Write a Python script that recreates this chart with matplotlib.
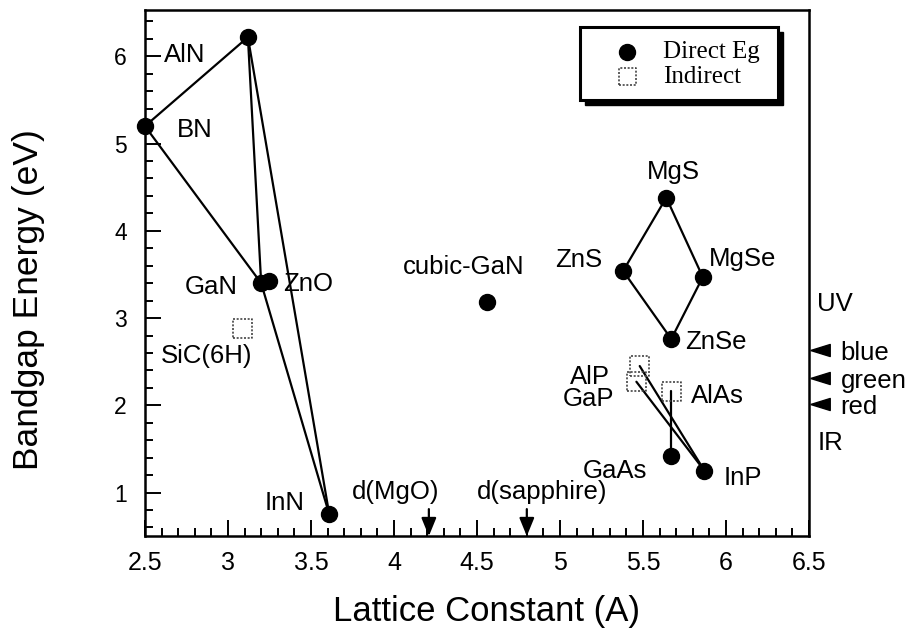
import matplotlib
matplotlib.use("Agg")
import matplotlib.pyplot as plt
from matplotlib.ticker import MultipleLocator
from matplotlib.patches import Rectangle
import numpy as np

plt.rcParams['font.family'] = ['Liberation Sans', 'DejaVu Sans']

# ---- data ----
direct_names = ["AlN", "BN", "GaN", "ZnO", "InN", "cubic-GaN", "MgS", "ZnS", "MgSe", "ZnSe", "GaAs", "InP"]
direct_a = [3.12, 2.50, 3.20, 3.25, 3.61, 4.56, 5.64, 5.38, 5.86, 5.67, 5.67, 5.87]
direct_eg = [6.22, 5.20, 3.40, 3.42, 0.75, 3.18, 4.38, 3.54, 3.47, 2.76, 1.42, 1.25]

indirect_names = ["SiC(6H)", "AlP", "GaP", "AlAs"]
indirect_a = [3.09, 5.48, 5.46, 5.67]
indirect_eg = [2.88, 2.45, 2.27, 2.16]

links = [("BN", "AlN"), ("AlN", "GaN"), ("BN", "GaN"), ("GaN", "InN"), ("AlN", "InN"),
         ("ZnS", "MgS"), ("MgS", "MgSe"), ("MgSe", "ZnSe"), ("ZnSe", "ZnS"),
         ("AlP", "InP"), ("GaP", "InP"), ("AlAs", "GaAs")]

# label positions (text anchor) for each compound
label_text = ["AlN", "BN", "GaN", "ZnO", "InN", "cubic-GaN", "MgS", "ZnS", "MgSe", "ZnSe",
              "GaAs", "InP", "SiC(6H)", "AlP", "GaP", "AlAs"]
label_x = [2.74, 2.80, 2.90, 3.48, 3.34, 4.42, 5.68, 5.11, 6.10, 5.94, 5.33, 6.10, 2.87, 5.18, 5.17, 5.95]
label_y = [6.01, 5.16, 3.36, 3.39, 0.885, 3.58, 4.67, 3.67, 3.68, 2.73, 1.25, 1.17, 2.57, 2.32, 2.07, 2.11]

substrate_names = ["d(MgO)", "d(sapphire)"]
substrate_a = [4.21, 4.80]
substrate_label_x = [4.01, 4.89]

color_names = ["blue", "green", "red"]
color_eg = [2.63, 2.31, 2.01]

xticks = [2.5, 3, 3.5, 4, 4.5, 5, 5.5, 6, 6.5]
xtick_labels = ["2.5", "3", "3.5", "4", "4.5", "5", "5.5", "6", "6.5"]
yticks = [1, 2, 3, 4, 5, 6]

FS = 18.5
SQ_STYLE = (0, (1.2, 1.0))

# ---- figure ----
fig = plt.figure(figsize=(9.06, 6.33), dpi=100)
ax = fig.add_axes([0.160, 0.153, 0.733, 0.831])
ax.set_xlim(2.5, 6.5)
ax.set_ylim(0.5, 6.53)

pos = {n: (a, e) for n, a, e in zip(direct_names + indirect_names,
                                      direct_a + indirect_a, direct_eg + indirect_eg)}
for p, q in links:
    ax.plot([pos[p][0], pos[q][0]], [pos[p][1], pos[q][1]], color='black', lw=1.6,
            zorder=2, solid_capstyle='round')

ax.plot(direct_a, direct_eg, 'o', color='black', ms=11.5, zorder=3, clip_on=False)
ax.scatter(indirect_a, indirect_eg, marker='s', s=190, facecolors='none',
           edgecolors='#444444', linewidths=1.2, linestyles=[SQ_STYLE], zorder=3)

for t, x, y in zip(label_text, label_x, label_y):
    ax.text(x, y, t, fontsize=FS, ha='center', va='center', zorder=4)

# substrate arrows
for n, a, lx in zip(substrate_names, substrate_a, substrate_label_x):
    ax.annotate("", xy=(a, 0.5), xytext=(a, 0.81),
                arrowprops=dict(arrowstyle='-|>,head_length=1.1,head_width=0.45',
                                color='black', lw=1.6, shrinkA=0, shrinkB=0))
    ax.text(lx, 1.01, n, fontsize=FS, ha='center', va='center')

# color markers on the right
tri = [(-1, 0), (1, 0.62), (1, -0.62), (-1, 0)]
ax.plot([6.565] * len(color_eg), color_eg, linestyle='none', marker=tri, ms=14,
        color='black', clip_on=False)
for n, e in zip(color_names, color_eg):
    ax.text(6.69, e - 0.03, n, fontsize=FS, ha='left', va='center')
ax.text(6.55, 3.16, "UV", fontsize=FS, ha='left', va='center')
ax.text(6.55, 1.57, "IR", fontsize=FS, ha='left', va='center')

# legend (manual, with shadow)
lx0, lx1, ly0, ly1 = 0.655, 0.953, 0.829, 0.968
ax.add_patch(Rectangle((lx0 + 0.008, ly0 - 0.010), lx1 - lx0, ly1 - ly0,
                       transform=ax.transAxes, facecolor='black', edgecolor='black',
                       zorder=5))
ax.add_patch(Rectangle((lx0, ly0), lx1 - lx0, ly1 - ly0, transform=ax.transAxes,
                       facecolor='white', edgecolor='black', lw=2.2, zorder=6))
ax.plot([0.726], [0.921], 'o', color='black', ms=11.5, transform=ax.transAxes, zorder=7)
ax.scatter([0.726], [0.873], marker='s', s=150, facecolors='none', edgecolors='#444444',
           linewidths=1.2, linestyles=[SQ_STYLE], transform=ax.transAxes, zorder=7)
ax.text(0.780, 0.921, "Direct Eg", family=['Liberation Serif'], fontsize=18,
        transform=ax.transAxes, va='center', ha='left', zorder=7)
ax.text(0.780, 0.873, "Indirect", family=['Liberation Serif'], fontsize=18,
        transform=ax.transAxes, va='center', ha='left', zorder=7)

# axes styling
ax.set_xticks(xticks)
ax.set_xticklabels(xtick_labels)
ax.set_yticks(yticks)
ax.xaxis.set_minor_locator(MultipleLocator(0.1))
ax.yaxis.set_minor_locator(MultipleLocator(0.2))
ax.tick_params(which='both', direction='in', top=False, right=False, width=1.4)
ax.tick_params(which='major', length=11.5)
ax.tick_params(which='minor', length=5.8)
ax.tick_params(axis='x', labelsize=18, pad=11)
ax.tick_params(axis='y', labelsize=16.5, pad=13)
for s in ax.spines.values():
    s.set_linewidth(1.8)

ax.set_xlabel("Lattice Constant (A)", fontsize=25)
ax.set_ylabel("Bandgap Energy (eV)", fontsize=25.5)
ax.xaxis.set_label_coords(0.515, -0.112)
ax.yaxis.set_label_coords(-0.150, 0.449)

fig.savefig("out.png", dpi=100)
